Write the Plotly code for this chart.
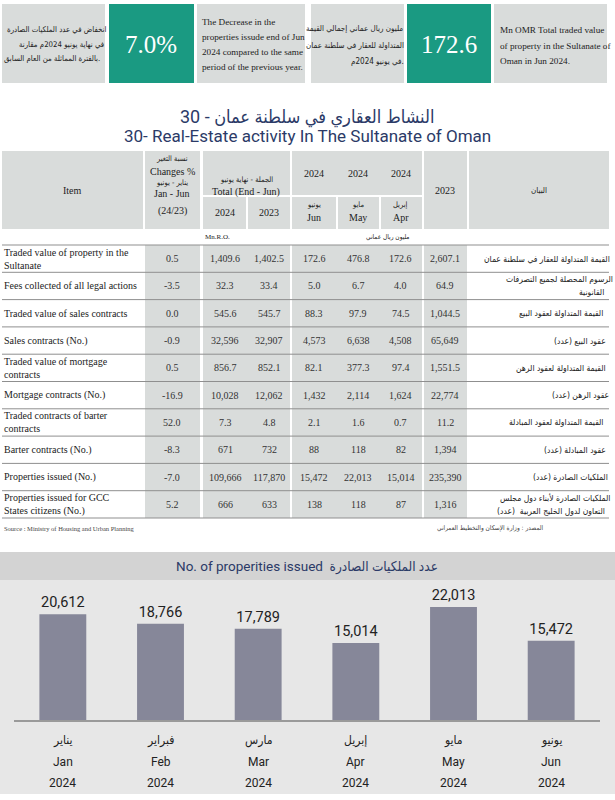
import plotly.graph_objects as go

W, H = 615, 800

# ---- data ----
items_en = ["Traded value of property in the<br>Sultanate", "Fees collected of all legal actions",
            "Traded value of sales contracts", "Sales contracts (No.)",
            "Traded value of mortgage<br>contracts", "Mortgage contracts (No.)",
            "Traded contracts of barter<br>contracts", "Barter contracts (No.)",
            "Properties issued (No.)", "Properties issued for GCC<br>States citizens (No.)"]
items_ar = ["القيمة المتداولة للعقار في سلطنة عمان", "الرسوم المحصلة لجميع التصرفات<br>القانونية",
            "القيمة المتداولة لعقود البيع", "عقود البيع (عدد)",
            "القيمة المتداولة لعقود الرهن", "عقود الرهن (عدد)",
            "القيمة المتداولة لعقود المبادلة", "عقود المبادلة (عدد)",
            "الملكيات الصادرة (عدد)", "الملكيات الصادرة لأبناء دول مجلس<br>التعاون لدول الخليج العربية  (عدد)"]
is_count = [False, False, False, True, False, True, False, True, True, True]
change_pct = [0.5, -3.5, 0.0, -0.9, 0.5, -16.9, 52.0, -8.3, -7.0, 5.2]
total_2024 = [1409.6, 32.3, 545.6, 32596, 856.7, 10028, 7.3, 671, 109666, 666]
total_2023 = [1402.5, 33.4, 545.7, 32907, 852.1, 12062, 4.8, 732, 117870, 633]
jun_2024 = [172.6, 5.0, 88.3, 4573, 82.1, 1432, 2.1, 88, 15472, 138]
may_2024 = [476.8, 6.7, 97.9, 6638, 377.3, 2114, 1.6, 118, 22013, 118]
apr_2024 = [172.6, 4.0, 74.5, 4508, 97.4, 1624, 0.7, 82, 15014, 87]
year_2023 = [2607.1, 64.9, 1044.5, 65649, 1551.5, 22774, 11.2, 1394, 235390, 1316]

months_en = ["Jan", "Feb", "Mar", "Apr", "May", "Jun"]
months_ar = ["يناير", "فبراير", "مارس", "إبريل", "مايو", "يونيو"]
month_year = ["2024"] * 6
issued = [20612, 18766, 17789, 15014, 22013, 15472]

# ---- styles ----
TEAL = "#1a9a82"
GREY = "#d9dcdb"
NAVY = "#2b3a67"
SERIF = "Liberation Serif, DejaVu Serif, DejaVu Sans"
ARAB = "DejaVu Sans Condensed, DejaVu Sans"
COND = "Roboto, DejaVu Sans Condensed, sans-serif"


def fx(x):
    return x / W


def fy(y):
    return 1 - y / H


shapes = []
annotations = []


def box(x0, y0, x1, y1, color):
    shapes.append(dict(type="rect", xref="paper", yref="paper", x0=fx(x0), x1=fx(x1),
                       y0=fy(y1), y1=fy(y0), fillcolor=color, line_width=0, layer="below"))


def line(x0, y, x1, color="#8f8f8f", width=1):
    shapes.append(dict(type="line", xref="paper", yref="paper", x0=fx(x0), x1=fx(x1),
                       y0=fy(y), y1=fy(y), line=dict(color=color, width=width)))


def text(x, y, s, size=10, color="#222", anchor="center", family=SERIF):
    annotations.append(dict(x=fx(x), y=fy(y), xref="paper", yref="paper", text=s,
                            showarrow=False, xanchor=anchor, yanchor="middle",
                            align=anchor if anchor != "center" else "center",
                            borderpad=0, borderwidth=0,
                            font=dict(size=size, color=color, family=family)))


def ar_right(xr, y, s, size=8.5, lh=13, color="#222"):
    # right-align Arabic lines by centring them on an estimated width (RTL anchors misbehave)
    lines = s.split("<br>")
    y0 = y - lh * (len(lines) - 1) / 2
    for i, ln in enumerate(lines):
        w = len(ln) * 3.4 * size / 9
        text(xr - w / 2, y0 + i * lh, ln, size=size, color=color, family=ARAB)


def fmt(v, count):
    return f"{v:,.0f}" if count else f"{v:,.1f}"


# ---- top KPI boxes ----
box(2, 4, 105, 83, GREY)
box(109, 4, 194, 83, TEAL)
box(197, 4, 305, 83, GREY)
box(311, 4, 404, 83, GREY)
box(407, 4, 491, 83, TEAL)
box(494, 4, 607, 83, GREY)

for i, s in enumerate(["انخفاض في عدد الملكيات الصادرة", "في نهاية يونيو 2024م مقارنة",
                       "بالفترة المماثلة من العام السابق."]):
    ar_right(101, 29 + i * 15, s, size=7.8)
text(151, 44, "7.0%", size=25, color="white")
for i, s in enumerate(["The Decrease in the", "properties issude end of Jun",
                       "2024 compared to the same", "period of the previous year."]):
    text(202, 22 + i * 15, s, size=9.2, anchor="left")
for i, s in enumerate(["مليون ريال عماني إجمالي القيمة", "المتداولة للعقار في سلطنة عمان",
                       "في يونيو 2024م."]):
    ar_right(400, 29 + i * 16, s, size=8)
text(449, 44, "172.6", size=25, color="white")
for i, s in enumerate(["Mn OMR Total traded value", "of property in the Sultanate of",
                       "Oman in Jun 2024."]):
    text(500, 30 + i * 15.5, s, size=9.2, anchor="left")

# ---- title ----
text(307, 117, "النشاط العقاري في سلطنة عمان - 30", size=18, color=NAVY, family=COND)
text(307, 136, "30- Real-Estate activity In The Sultanate of Oman", size=17, color=NAVY, family=COND)

# ---- table header ----
HT, HM, HB = 151, 196, 229
box(2, HT, 143, HB, GREY)
box(145, HT, 200, HB, GREY)
box(203, HT, 290, HM - 1, GREY)
box(203, HM + 1, 246, HB, GREY)
box(248, HM + 1, 290, HB, GREY)
box(292, HT, 422, HM - 1, GREY)
box(292, HM + 1, 336, HB, GREY)
box(338, HM + 1, 379, HB, GREY)
box(381, HM + 1, 422, HB, GREY)
box(424, HT, 467, HB, GREY)
box(469, HT, 609, HB, GREY)

text(72, 190, "Item", size=10)
text(172, 158, "نسبة التغير", size=7.5, family=ARAB)
text(172, 171, "Changes %", size=10)
text(172, 182, "يناير - يونيو", size=7.5, family=ARAB)
text(172, 194, "Jan - Jun", size=10)
text(172, 211, "(24/23)", size=10)
text(246, 180, "الجملة - نهاية يونيو", size=7.5, family=ARAB)
text(246, 192, "Total (End - Jun)", size=10)
text(225, 212, "2024", size=10)
text(269, 212, "2023", size=10)
sub_cx = [314, 358, 401]
for cx, en, ar in zip(sub_cx, ["Jun", "May", "Apr"], ["يونيو", "مايو", "إبريل"]):
    text(cx, 173, "2024", size=10)
    text(cx, 205, ar, size=7.5, family=ARAB)
    text(cx, 218, en, size=10)
text(445, 190, "2023", size=10)
text(539, 190, "البيان", size=8, family=ARAB)

text(205, 237, "Mn.R.O.", size=7, anchor="left")
text(388, 237, "مليون ريال عماني", size=6.5, family=ARAB)

# ---- table body ----
RT, RH = 245, 27.3
nrows = len(items_en)
RB = RT + RH * nrows
box(145, RT, 200, RB, GREY)
box(203, RT, 290, RB, GREY)
box(292, RT, 422, RB, GREY)
box(424, RT, 467, RB, GREY)
for r in range(nrows + 1):
    line(2, RT + r * RH, 609)

num_cols = [(225, total_2024), (269, total_2023), (314, jun_2024), (358, may_2024),
            (401, apr_2024), (445, year_2023)]
for r in range(nrows):
    cy = RT + (r + 0.5) * RH
    text(4, cy, items_en[r], size=10, anchor="left")
    ar_right(606, cy, items_ar[r], size=8.5, lh=13)
    text(172, cy, f"{change_pct[r]:.1f}", size=10, color="#333")
    for cx, col in num_cols:
        text(cx, cy, fmt(col[r], is_count[r]), size=10, color="#333")

text(4, 528, "Source : Ministry of Housing and Urban Planning", size=6.5, color="#444", anchor="left")
ar_right(540, 528, "المصدر : وزارة الإسكان والتخطيط العمراني", size=6.5, color="#444")

# ---- bottom chart panel ----
box(0, 552, 615, 580, "#d3d3d3")
box(0, 580, 615, 794, "#e7e7e7")
text(307, 566, "No. of properities issued  عدد الملكيات الصادرة", size=13.5, color=NAVY, family=COND)

fig = go.Figure(go.Bar(
    x=months_en, y=issued, marker_color="#868799", marker_line_width=0,
    texttemplate="%{y:,}", textposition="outside", cliponaxis=False,
    textfont=dict(size=14.5, color="#222", family=COND), hoverinfo="skip",
))

for en, ar, yr in zip(months_en, months_ar, month_year):
    for s, yy in ((ar, 740), (en, 762), (yr, 783)):
        annotations.append(dict(x=en, xref="x", y=fy(yy), yref="paper", text=s, showarrow=False,
                                xanchor="center", yanchor="middle",
                                font=dict(size=12, color="#222", family=COND)))

fig.update_layout(
    width=W, height=H, margin=dict(l=0, r=0, t=0, b=0),
    paper_bgcolor="white", plot_bgcolor="rgba(0,0,0,0)",
    showlegend=False, bargap=0.52,
    shapes=shapes, annotations=annotations,
    xaxis=dict(domain=[fx(14), fx(600)], showticklabels=False, ticks="", showgrid=False,
               showline=True, linecolor="#9a9a9a", linewidth=1.5, fixedrange=True),
    yaxis=dict(domain=[fy(720), fy(590)], range=[0, 25350], visible=False, fixedrange=True),
)

# drop the browser's default 8px body margin so the page lines up with the 615x800 window
fig.write_html("out.html", config={"displayModeBar": False},
               post_script="document.body.style.margin='0';")
